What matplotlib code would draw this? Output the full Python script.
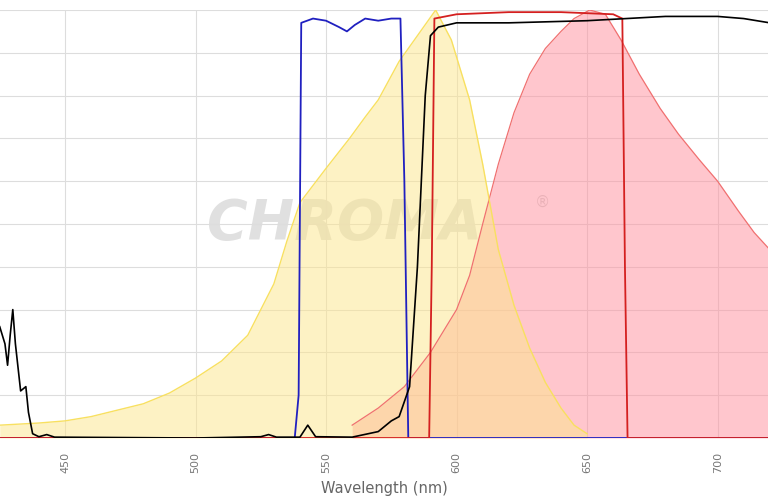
import matplotlib.pyplot as plt
import numpy as np

# Excitation spectrum (yellow, filled)
ex_wl = [425, 440, 450, 460, 470, 480, 490, 500, 510, 520, 525, 530, 535, 540, 550, 559, 565, 570, 578, 585, 592,
         598, 605, 610, 616, 622, 628, 634, 640, 645, 650]
ex_val = [3, 3.5, 4, 5, 6.5, 8, 10.5, 14, 18, 24, 30, 36, 46, 55, 63, 70, 75, 79, 88, 94, 100,
          93, 79, 64, 44, 31, 21, 13, 7, 3, 1]

# Emission spectrum (red, filled)
em_wl = [560, 570, 580, 590, 600, 605, 610, 616, 622, 628, 634, 640, 645, 651, 657, 663, 670, 678,
         685, 693, 700, 708, 714, 720]
em_val = [3, 7, 12, 20, 30, 38, 50, 64, 76, 85, 91, 95, 98, 100, 99, 93, 85, 77, 71, 65, 60, 53, 48, 44]

# Excitation filter (blue)
exf_wl = [425, 538, 539.5, 540.5, 545, 550, 555, 558, 561, 565, 570, 575, 578.5, 580, 581.5, 720]
exf_val = [0, 0, 10, 97, 98, 97.5, 96, 95, 96.5, 98, 97.5, 98, 98, 60, 0, 0]

# Emission filter (red)
emf_wl = [425, 589.5, 590.5, 591.5, 600, 620, 640, 660, 663.5, 664.5, 665.5, 720]
emf_val = [0, 0, 40, 98, 99, 99.5, 99.5, 99, 98, 40, 0, 0]

# Dichroic (black)
di_wl = [425, 427, 428, 429, 430, 431, 433, 435, 436, 437.6, 440, 443, 446, 500, 525, 528, 531, 540, 543, 546,
         560, 570, 575, 578, 582, 585, 588, 590, 593, 600, 620, 650, 680, 700, 710, 720]
di_val = [26, 22, 17, 24, 30, 22, 11, 12, 6, 1, 0.3, 0.8, 0.2, 0, 0.3, 0.8, 0.2, 0.2, 3, 0.3,
          0.2, 1.5, 4, 5, 12, 40, 80, 94, 96, 97, 97, 97.5, 98.5, 98.5, 98, 97]

fig = plt.figure(figsize=(7.68, 5.01), dpi=100)
ax = fig.add_axes([0, 63 / 501, 1, 428 / 501])

ax.fill_between(em_wl, em_val, color='#ff8f9c', alpha=0.5, lw=0)
ax.plot(em_wl, em_val, color='#f07070', lw=0.9)
ax.fill_between(ex_wl, ex_val, color='#fde68a', alpha=0.5, lw=0)
ax.plot(ex_wl, ex_val, color='#f8e060', lw=1)

ax.plot(exf_wl, exf_val, color='#2020c0', lw=1.3)
ax.plot(emf_wl, emf_val, color='#d42020', lw=1.3)
ax.plot(di_wl, di_val, color='black', lw=1.2)

ax.text(557, 50, 'CHROMA', fontsize=40, fontweight='bold', fontstyle='italic',
        color='#bbbbbb', alpha=0.45, ha='center', va='center', zorder=0)
ax.text(633, 55, '®', fontsize=11, color='#bbbbbb', alpha=0.6, ha='center', va='center', zorder=0)

ax.set_xlim(425.1, 719.3)
ax.set_ylim(0, 100)
ax.set_xticks(np.arange(450, 701, 50))
ax.set_yticks(np.arange(0, 101, 10))
ax.tick_params(axis='x', labelrotation=90, labelsize=8, labelcolor='#777777', length=0, pad=10)
ax.tick_params(axis='y', labelleft=False, length=0)
ax.grid(color='#dddddd', lw=0.8)
ax.set_axisbelow(True)
for s in ax.spines.values():
    s.set_visible(False)
ax.set_xlabel('Wavelength (nm)', color='#666666', fontsize=10.5, labelpad=6)

fig.savefig('out.png', dpi=100)
